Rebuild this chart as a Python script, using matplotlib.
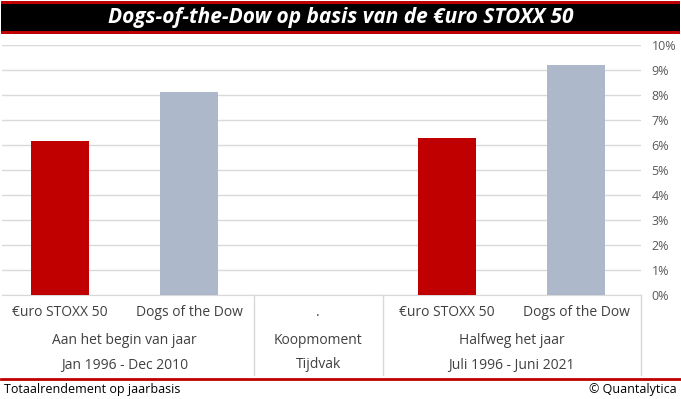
import numpy as np
import matplotlib
matplotlib.use('Agg')
import matplotlib.pyplot as plt
from matplotlib.patches import Rectangle
from matplotlib.lines import Line2D

# data
series_labels = ['€uro STOXX 50', 'Dogs of the Dow', '.', '€uro STOXX 50', 'Dogs of the Dow']
values = [6.17, 8.13, np.nan, 6.29, 9.21]
bar_colors = ['#c00000', '#adb9ca', 'white', '#c00000', '#adb9ca']
moment_labels = ['Aan het begin van jaar', 'Koopmoment', 'Halfweg het jaar']
period_labels = ['Jan 1996 - Dec 2010', 'Tijdvak', 'Juli 1996 - Juni 2021']
group_spans = [(0, 2), (2, 3), (3, 5)]
yticks = np.arange(0, 11, 1)

title = 'Dogs-of-the-Dow op basis van de €uro STOXX 50'
footer_left = 'Totaalrendement op jaarbasis'
footer_right = '© Quantalytica'

plt.rcParams['font.family'] = ['Open Sans', 'DejaVu Sans']

W, H = 681, 399
fig = plt.figure(figsize=(W / 100, H / 100), dpi=100)

def fx(px):
	return px / W

def fy(py):
	return 1 - py / H

# category slots: 129 px each, first slot starts a little left of the canvas
slot = 129.0
slot0 = -4.5
n = len(values)
x_left, x_right = 2, slot0 + n * slot
y_top, y_bot = 45.3, 295.3

def px_of(v):
	# data x -> pixel x
	return slot0 + (v + 0.5) * slot

ax = fig.add_axes([fx(x_left), fy(y_bot), fx(x_right - x_left), fy(y_top) - fy(y_bot)])
x = np.arange(n)
ax.bar(x, values, width=0.45, color=bar_colors, zorder=3)
ax.set_xlim(-0.5 + (x_left - slot0) / slot, n - 0.5)
ax.set_ylim(0, 10)
ax.set_yticks(yticks)
ax.set_yticklabels(['%d%%' % t for t in yticks], color='#595959', fontsize=9)
ax.yaxis.tick_right()
ax.tick_params(axis='y', length=0, pad=8)
ax.set_xticks([])
ax.grid(axis='y', color='#d9d9d9', lw=1, zorder=0)
for s in ['top', 'left', 'right']:
	ax.spines[s].set_visible(False)
ax.spines['bottom'].set_color('#d9d9d9')

# category rows under the axis
row1, row2, row3 = 312, 340, 365
for i, lab in enumerate(series_labels):
	fig.text(fx(px_of(i)), fy(row1), lab, ha='center', va='center', fontsize=10, color='#404040')
for (a, b), m, p in zip(group_spans, moment_labels, period_labels):
	cx = fx((px_of(a) + px_of(b - 1)) / 2)
	fig.text(cx, fy(row2), m, ha='center', va='center', fontsize=10, color='#404040')
	fig.text(cx, fy(row3), p, ha='center', va='center', fontsize=10, color='#404040')
for a, b in group_spans[1:]:
	xv = fx(px_of(a - 0.5))
	fig.add_artist(Line2D([xv, xv], [fy(295), fy(375)], color='#d9d9d9', lw=1))
xv = fx(px_of(n - 0.5))
fig.add_artist(Line2D([xv, xv], [fy(295), fy(375)], color='#d9d9d9', lw=1))

# title bar
fig.add_artist(Rectangle((fx(1), fy(34)), fx(679), fy(1) - fy(34), facecolor='#c00000', edgecolor='none'))
fig.add_artist(Rectangle((fx(1), fy(31)), fx(679), fy(4) - fy(31), facecolor='black', edgecolor='none'))
fig.text(0.5, fy(17.5), title, ha='center', va='center', color='white', fontsize=15,
	fontweight='bold', fontstyle='italic')

# footer
fig.add_artist(Line2D([fx(1), fx(680)], [fy(378.5), fy(378.5)], color='#c00000', lw=2))
fig.text(fx(4), fy(389), footer_left, ha='left', va='center', fontsize=9, color='black')
fig.text(fx(677), fy(389), footer_right, ha='right', va='center', fontsize=9, color='black')

fig.savefig('out.png', dpi=100)
